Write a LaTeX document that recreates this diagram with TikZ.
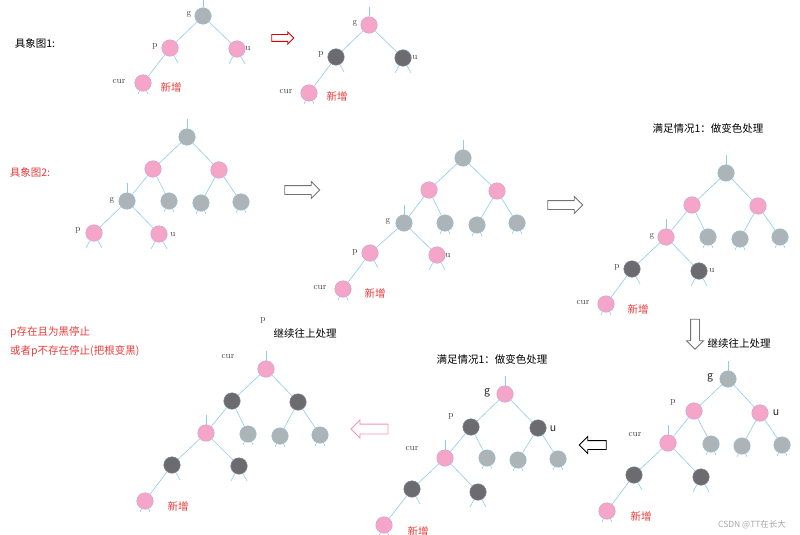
\documentclass[tikz,border=0pt]{standalone}
\usepackage{fontspec}
\newfontfamily\cjk{Noto Sans CJK SC}
\usetikzlibrary{shapes.arrows}
\definecolor{nodePink}{RGB}{245,166,200}
\definecolor{pinkRim}{RGB}{205,160,215}
\definecolor{nodeGray}{RGB}{172,180,184}
\definecolor{grayRim}{RGB}{150,190,210}
\definecolor{nodeDark}{RGB}{108,108,112}
\definecolor{darkRim}{RGB}{125,135,150}
\definecolor{edgeBlue}{RGB}{140,205,235}
\definecolor{noteRed}{RGB}{232,60,60}

\begin{document}
\begin{tikzpicture}[x=1pt, y=-1pt,
    rb/.style={circle, inner sep=0pt, minimum size=16.5pt, line width=0.5pt},
    pinkn/.style={rb, fill=nodePink, draw=pinkRim},
    grayn/.style={rb, fill=nodeGray, draw=grayRim},
    darkn/.style={rb, fill=nodeDark, draw=darkRim},
    edge/.style={draw=edgeBlue, line width=0.6pt},
    lbl/.style={inner sep=0pt, text=black!75, font=\rmfamily\fontsize{9}{10}\selectfont},
    slbl/.style={inner sep=0pt, text=black!85, font=\cjk\fontsize{10.5}{12}\selectfont},
    cn/.style={inner sep=0pt, font=\cjk\fontsize{10.5}{12}\selectfont},
    newtxt/.style={cn, text=noteRed},
    hollow/.style={single arrow, inner sep=4pt, single arrow head extend=4pt, line width=0.9pt, fill=white}
]
\useasboundingbox (0,0) rectangle (800,535);

% tree nodes
\foreach \n/\x/\y/\c in {
    gA/203/16/grayn, pA/170/48/pinkn, uA/237/49/pinkn, cA/143/83/pinkn,
    gB/369/25/pinkn, pB/336/57/darkn, uB/403/58/darkn, cB/309/93/pinkn,
    rC/187/137/grayn, aC/153/169/pinkn, bC/219/170/pinkn, gC/127/201/grayn, c2/169/201/grayn,
    c3/201/203/grayn, c4/241/202/grayn, pC/94/233/pinkn, uC/159/234/pinkn,
    rD/463/158/grayn, aD/429/190/pinkn, bD/497/191/pinkn, gD/404/223/grayn, d2/445/223/grayn,
    d3/477/225/grayn, d4/517/223/grayn, pD/370/253/pinkn, uD/437/255/pinkn, cD/343/289/pinkn,
    rE/726/173/grayn, aE/692/205/pinkn, bE/758/206/pinkn, gE/666/237/pinkn, e2/708/237/grayn,
    e3/740/239/grayn, e4/780/237/grayn, pE/632/269/darkn, uE/699/271/darkn, cE/606/304/pinkn,
    gF/728/379/grayn, pF/694/411/pinkn, uF/760/413/pinkn, cF/668/443/pinkn, f2/711/444/grayn,
    f3/742/446/grayn, f4/782/445/grayn, f5/634/475/darkn, f6/701/477/darkn, f7/607/511/pinkn,
    gG/505/394/pinkn, pG/471/427/darkn, uG/538/428/darkn, cG/445/458/pinkn, g2/487/458/grayn,
    g3/518/460/grayn, g4/558/459/grayn, g5/412/489/darkn, g6/478/492/darkn, g7/384/525/pinkn,
    rH/266/369/pinkn, aH/232/401/darkn, bH/298/402/darkn, cH/206/433/pinkn, h2/248/434/grayn,
    h3/280/436/grayn, h4/320/435/grayn, h5/172/465/darkn, h6/239/466/darkn, h7/145/501/pinkn}
    \node[\c] (\n) at (\x,\y) {};

% parent -> child
\foreach \a/\b in {gA/pA, gA/uA, pA/cA, gB/pB, gB/uB, pB/cB,
    rC/aC, rC/bC, aC/gC, aC/c2, bC/c3, bC/c4, gC/pC, gC/uC,
    rD/aD, rD/bD, aD/gD, aD/d2, bD/d3, bD/d4, gD/pD, gD/uD, pD/cD,
    rE/aE, rE/bE, aE/gE, aE/e2, bE/e3, bE/e4, gE/pE, gE/uE, pE/cE,
    gF/pF, gF/uF, pF/cF, pF/f2, uF/f3, uF/f4, cF/f5, cF/f6, f5/f7,
    gG/pG, gG/uG, pG/cG, pG/g2, uG/g3, uG/g4, cG/g5, cG/g6, g5/g7,
    rH/aH, rH/bH, aH/cH, aH/h2, bH/h3, bH/h4, cH/h5, cH/h6, h5/h7}
    \draw[edge] (\a) -- (\b);

% stems and stubs
\foreach \n in {gA, gB, rC, gC, rD, gD, rE, gE, gF, cF, gG, cG, rH, cH}
    \draw[edge] (\n) -- ++(0,-18);
\foreach \n in {uA, uB, pC, uC, uD, uE, f6, g6, h6}
    \draw[edge] (\n) -- ++(-8,15);
\foreach \n in {pA, pB, pC, uA, uB, uC, pD, uD, pE, uE, f5, f6, g5, g6, h5, h6}
    \draw[edge] (\n) -- ++(8,15);
\foreach \n in {cA, cB, c2, c3, c4, cD, d2, d3, d4, cE, e2, e3, e4,
    f2, f3, f4, f7, g2, g3, g4, g7, h2, h3, h4, h7}
    {\draw[edge] (\n) -- ++(-5,11); \draw[edge] (\n) -- ++(5,11);}

% letters beside the nodes
\foreach \n/\t/\x/\y in {
    lgA/g/189/14, lpA/p/155/46, luA/u/248/49, lcA/cur/119/82,
    lgB/g/355/23, lpB/p/321/54, luB/u/415/58, lcB/cur/286/92,
    lgC/g/112/200, lpC/p/78/230, luC/u/173/235,
    lgD/g/388/221, lpD/p/355/252, luD/u/448/256, lcD/cur/320/288,
    lgE/g/652/236, lpE/p/617/267, luE/u/712/271, lcE/cur/583/303,
    lpF/p/673/402, lcF/cur/635/435, lpG/p/451/416, lcG/cur/412/449,
    lpH/p/263/320, lcH/cur/228/357}
    \node[lbl] (\n) at (\x,\y) {\t};
\foreach \n/\t/\x/\y in {lgF/g/710/378, luF/u/776/413, lgG/g/487/393, luG/u/553/429}
    \node[slbl] (\n) at (\x,\y) {\t};

% new node marks
\foreach \n/\x/\y in {nA/171/87, nB/337/96, nD/375/293, nE/638/309,
    nF/641/516, nG/418/531, nH/178/506}
    \node[newtxt] (\n) at (\x,\y) {新增};

% captions
\node[cn] (cap1) at (35,43) {具象图1:};
\node[newtxt] (cap2) at (30,172) {具象图2:};
\node[cn] (case1) at (708,128) {满足情况1：做变色处理};
\node[cn] (case2) at (492,359) {满足情况1：做变色处理};
\node[cn] (up1) at (739,343) {继续往上处理};
\node[cn] (up2) at (305,333) {继续往上处理};
\node[newtxt, anchor=west] (stop1) at (10,332) {p存在且为黑停止};
\node[newtxt, anchor=west] (stop2) at (10,351) {或者p不存在停止(把根变黑)};
\node[inner sep=0pt, text=black!35, font=\cjk\fontsize{8.5}{10}\selectfont] (mark) at (752,525) {CSDN @TT在长大};

% hollow arrows between the steps
\node[hollow, draw=red!85!black, minimum height=22pt, inner sep=3pt, single arrow head extend=2.5pt] (go1) at (281,38) {};
\node[hollow, draw=black!55, minimum height=35pt] (go2) at (300,190) {};
\node[hollow, draw=black!55, minimum height=35pt] (go3) at (563,205) {};
\node[hollow, draw=black!55, minimum height=30pt, shape border rotate=270] (go4) at (695,332) {};
\node[hollow, draw=black, minimum height=27pt, shape border rotate=180] (go5) at (595,445) {};
\node[hollow, draw=nodePink!90!red, minimum height=37pt, inner sep=4.5pt, shape border rotate=180] (go6) at (372,429) {};

\end{tikzpicture}
\end{document}
